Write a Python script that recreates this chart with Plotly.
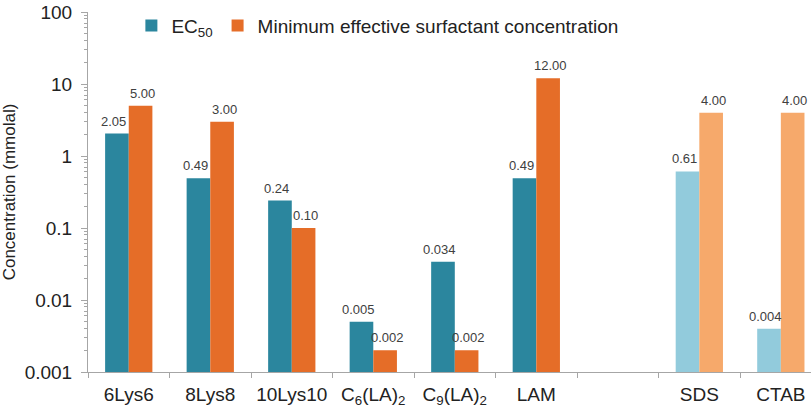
import math
import plotly.graph_objects as go

# Compounds (an empty slot separates the reference surfactants)
categories = ["6Lys6", "8Lys8", "10Lys10", "C<sub>6</sub>(LA)<sub>2</sub>",
              "C<sub>9</sub>(LA)<sub>2</sub>", "LAM", " ", "SDS", "CTAB"]
ec50 = [2.05, 0.49, 0.24, 0.005, 0.034, 0.49, None, 0.61, 0.004]
ec50_text = ["2.05", "0.49", "0.24", "0.005", "0.034", "0.49", "", "0.61", "0.004"]
mec = [5.00, 3.00, 0.10, 0.002, 0.002, 12.00, None, 4.00, 4.00]
mec_text = ["5.00", "3.00", "0.10", "0.002", "0.002", "12.00", "", "4.00", "4.00"]

major_ticks = [0.001, 0.01, 0.1, 1, 10, 100]
major_labels = ["0.001", "0.01", "0.1", "1", "10", "100"]
minor_ticks = [m * d for d in [0.001, 0.01, 0.1, 1, 10] for m in range(2, 10)]

TEAL, TEAL_LIGHT = "#2B869E", "#92CBDC"
ORANGE, ORANGE_LIGHT = "#E56D28", "#F6A96B"
reference = {"SDS", "CTAB"}

ec50_colors = [TEAL_LIGHT if c in reference else TEAL for c in categories]
mec_colors = [ORANGE_LIGHT if c in reference else ORANGE for c in categories]

fig = go.Figure()
fig.add_trace(go.Bar(
    x=categories, y=ec50, name="EC<sub>50</sub>",
    marker=dict(color=ec50_colors, line=dict(width=0)),
))
fig.add_trace(go.Bar(
    x=categories, y=mec, name="Minimum effective surfactant concentration",
    marker=dict(color=mec_colors, line=dict(width=0)),
))

# Value labels above each bar, drawn on top of all bars
# (annotation y on a log axis is given in log10 units)
BAR_HALF = 12
for vals, texts, shift in [(ec50, ec50_text, -BAR_HALF - 3), (mec, mec_text, BAR_HALF + 2)]:
    for cat, v, t in zip(categories, vals, texts):
        if v is None:
            continue
        fig.add_annotation(
            x=cat, y=math.log10(v), yref="y", text=t, showarrow=False,
            xanchor="center", yanchor="bottom", xshift=shift, yshift=3,
            font=dict(size=13, color="#404040"),
        )

fig.update_layout(
    width=811, height=410,
    margin=dict(l=88, r=0, t=12, b=38),
    paper_bgcolor="white", plot_bgcolor="white",
    font=dict(family="Liberation Sans, Arial, sans-serif", color="#222222"),
    barmode="group", bargap=0.42, bargroupgap=0,
    showlegend=True,
    legend=dict(orientation="h", x=0.06, y=1.015, xanchor="left", yanchor="top",
                font=dict(size=19, color="#222222"), bgcolor="rgba(0,0,0,0)",
                itemwidth=30),
)

fig.update_xaxes(
    type="category", range=[-0.5, 8.37],
    showline=True, linecolor="#A6A6A6", linewidth=1,
    ticks="outside", tickson="boundaries", ticklen=5, tickcolor="#A6A6A6",
    tickfont=dict(size=19, color="#222222"), tickangle=0, ticklabelstandoff=5,
    showgrid=False, automargin=False,
)
fig.update_yaxes(
    type="log", range=[-3, 2],
    showline=True, linecolor="#A6A6A6", linewidth=1,
    ticks="outside", ticklen=6, tickcolor="#A6A6A6",
    tickvals=major_ticks, ticktext=major_labels,
    tickfont=dict(size=19, color="#222222"), ticklabelstandoff=5,
    minor=dict(ticks="outside", ticklen=3, tickcolor="#A6A6A6",
               tickvals=minor_ticks, showgrid=False),
    showgrid=False, zeroline=False,
    title=dict(text="Concentration (mmolal)", font=dict(size=17, color="#222222"), standoff=6),
)

fig.write_html("out.html")
